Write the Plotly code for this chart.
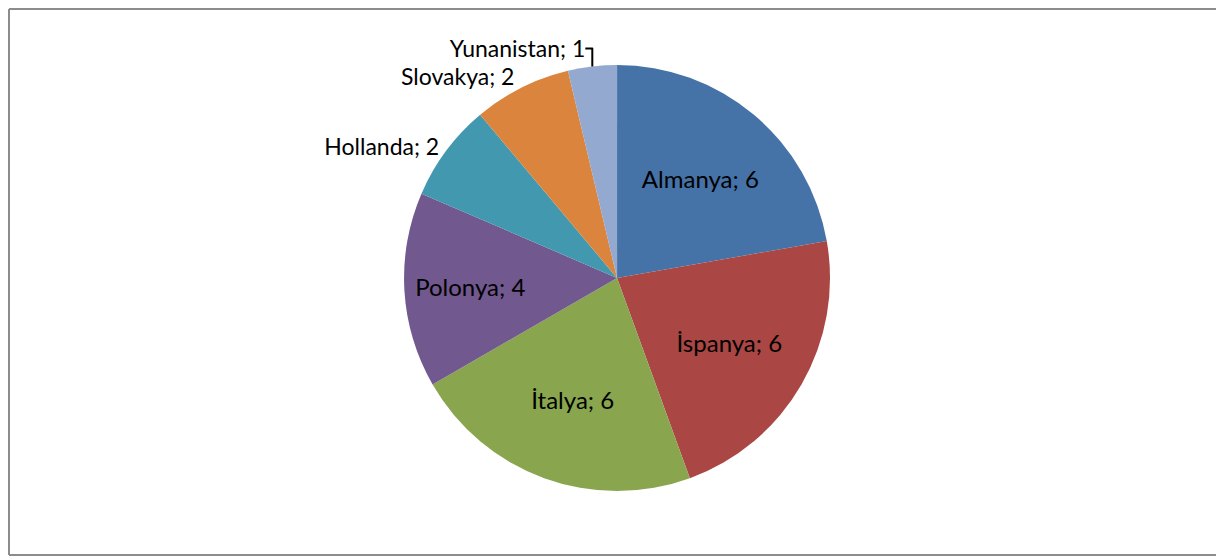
import plotly.graph_objects as go

countries = ["Almanya", "İspanya", "İtalya", "Polonya", "Hollanda", "Slovakya", "Yunanistan"]
counts = [6, 6, 6, 4, 2, 2, 1]
colors = ["#4572A7", "#AA4643", "#89A54E", "#71588F", "#4198AF", "#DB843D", "#93A9CF"]
label_pos = ["inside", "inside", "inside", "inside", "outside", "outside", "outside"]

# the page puts the figure 8px in from the top left corner
W, H = 1216, 548

fig = go.Figure(go.Pie(
    labels=countries,
    values=counts,
    sort=False,
    direction="clockwise",
    rotation=0,
    marker=dict(colors=colors, line=dict(width=0)),
    texttemplate="%{label}; %{value}",
    textposition=label_pos,
    insidetextorientation="horizontal",
    textfont=dict(family="Lato, Open Sans, sans-serif", size=24, color="black"),
    outsidetextfont=dict(family="Lato, Open Sans, sans-serif", size=23, color="black"),
    showlegend=False,
    hoverinfo="label+value",
    domain=dict(x=[0.3257, 0.676], y=[0.1186, 0.896]),
))

# outer chart frame: left, top and bottom edges (right side runs off the page)
frame = dict(type="line", xref="paper", yref="paper", line=dict(color="#8c8c8c", width=2))
fig.add_shape(frame, x0=1 / W, x1=1 / W, y0=1 / H, y1=1 - 1 / H)
fig.add_shape(frame, x0=1 / W, x1=1, y0=1 - 1 / H, y1=1 - 1 / H)
fig.add_shape(frame, x0=1 / W, x1=1, y0=1 / H, y1=1 / H)

fig.update_layout(
    width=W, height=H,
    margin=dict(l=0, r=0, t=0, b=0),
    paper_bgcolor="white",
    plot_bgcolor="white",
    font=dict(family="Lato, Open Sans, sans-serif"),
)

fig.write_html("out.html")
